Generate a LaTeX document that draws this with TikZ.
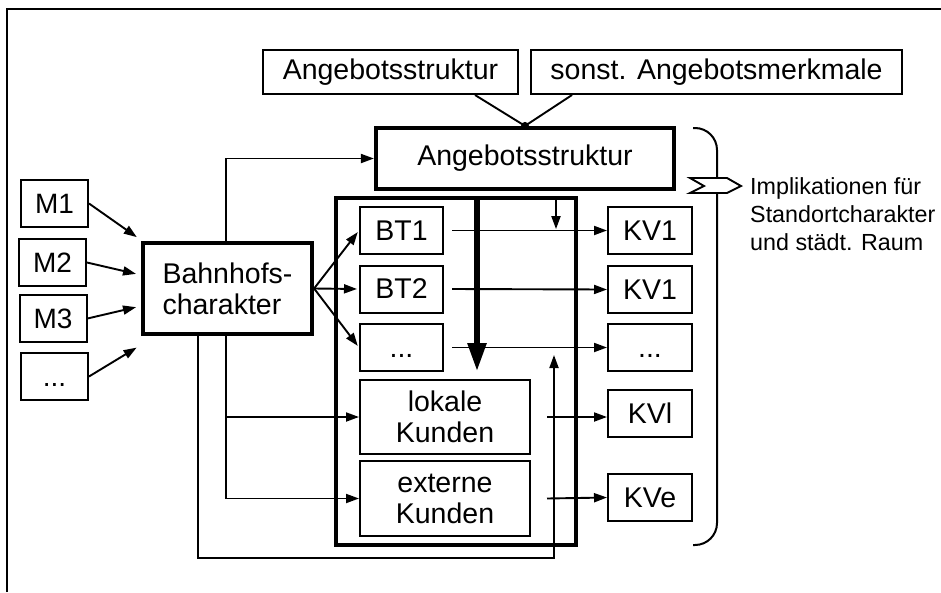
\documentclass[tikz,border=0pt]{standalone}
\usepackage{fontspec}
\setmainfont{Liberation Sans}
\usetikzlibrary{arrows.meta}
\newcommand{\punkte}{\vphantom{M}.\kern0pt.\kern0pt.}
\tikzset{
  kasten/.style={draw, line width=2pt, inner sep=0pt, align=center, font=\fontsize{28.5}{31}\selectfont},
  dickkasten/.style={kasten, line width=4.2pt},
  linie/.style={line width=1.9pt},
  pfeil/.style={linie, -{Triangle[length=13pt,width=9pt]}},
}
\begin{document}
\begin{tikzpicture}[x=1pt,y=-1pt]
    \useasboundingbox (0,0) rectangle (941,592);

    \draw[line width=2pt] (7,592) -- (7,9) -- (941,9); % ----- Rahmen

    % ----- Angebot
    \node[kasten, minimum width=255pt, minimum height=44pt] (angA) at (390.5,72) {Angebotsstruktur};
    \node[kasten, minimum width=371pt, minimum height=44pt] (angB) at (716.5,72) {sonst. Angebotsmerkmale};
    \node[dickkasten, minimum width=298pt, minimum height=61pt] (angebot) at (525,158.5) {Angebotsstruktur};
    \draw[linie] ([xshift=84.5pt]angA.south) -- (angebot.north);
    \draw[linie] ([xshift=-144.5pt]angB.south) -- (angebot.north);
    \fill (angebot.north) circle (4pt);

    % ----- Merkmale
    \foreach \name/\x/\y/\txt in {M1/54.5/203.5/M1, M2/52.5/262.5/M2, M3/53/318.5/M3, Mx/54.5/376.5/\punkte}
        \node[kasten, font=\fontsize{28}{30}\selectfont, minimum width=67pt, minimum height=47pt] (\name) at (\x,\y) {\txt};
    \node[dickkasten, align=left, minimum width=169pt, minimum height=91pt] (bahn) at (227.5,288.5) {Bahnhofs-\\charakter};
    \foreach \name/\dy in {M1/48.5, M2/13.5, M3/-17.5, Mx/-56.5}
        \draw[pfeil, shorten >=5pt] (\name.east) -- ([yshift=\dy pt]bahn.west);

    % ----- Betriebstypen und Kunden
    \node[dickkasten, minimum width=240pt, minimum height=347pt] (rahmen) at (456,371.5) {};
    \foreach \name/\y/\txt in {BT1/230.5/BT1, BT2/289/BT2, BTx/347.5/\punkte}
        \node[kasten, minimum width=83pt, minimum height=47pt] (\name) at (401.5,\y) {\txt};
    \node[kasten, minimum width=170pt, minimum height=74pt] (lokal) at (445,417) {lokale\\Kunden};
    \node[kasten, minimum width=170pt, minimum height=75pt] (extern) at (445,498.5) {externe\\Kunden};

    \foreach \name/\y/\txt in {KVa/230.5/KV1, KVb/289.5/KV1, KVx/347.5/\punkte, KVl/413.5/KVl, KVe/497.5/KVe}
        \node[kasten, minimum width=84pt, minimum height=47pt] (\name) at (650,\y) {\txt};

    \foreach \name in {BT1, BT2, BTx}
        \draw[pfeil, shorten >=2pt] (bahn.east) -- (\name.west);

    \draw[pfeil] ([xshift=-1.5pt]bahn.north) |- (angebot.west);
    \draw[pfeil] ([xshift=-1.5pt]bahn.south) |- (extern.west);
    \draw[pfeil] ([xshift=-1.5pt]bahn.south |- lokal.west) -- (lokal.west);
    \coordinate (zurueck) at (554,355);
    \draw[pfeil] ([xshift=-29.5pt]bahn.south) |- (zurueck |- 0,558) -- (zurueck);

    \draw[line width=5.5pt, -{Triangle[length=28pt,width=18pt]}] ([xshift=-48pt,yshift=-6pt]angebot.south) -- ([xshift=-48pt,yshift=-180pt]angebot.south);
    \draw[pfeil] ([xshift=31pt,yshift=-6pt]angebot.south) -- ([xshift=31pt,yshift=-38pt]angebot.south);

    \draw[pfeil] ([xshift=8pt]BT1.east) -- (KVa.west);
    \draw[pfeil] ([xshift=8pt]BT2.east) -- (KVb.west);
    \draw[pfeil] ([xshift=8pt]BTx.east) -- (KVx.west);
    \draw[pfeil] ([xshift=16pt]lokal.east) -- (lokal.east -| KVl.west);
    \draw[pfeil] ([xshift=16pt]extern.east) -- (KVe.west);

    % ----- Implikationen
    \draw[line width=2pt, rounded corners=22pt] (693,128) -| (717,545) -- (693,545);
    \filldraw[linie, fill=white] (690,178) -- (727,178) -- (741,186) -- (727,193) -- (690,193) -- (704,186) -- cycle;
    \node[anchor=north west, inner sep=0pt, align=left, font=\fontsize{23.3}{28}\selectfont] (impl) at (750,177) {Implikationen für\\Standortcharakter\\und städt. Raum};
\end{tikzpicture}
\end{document}
